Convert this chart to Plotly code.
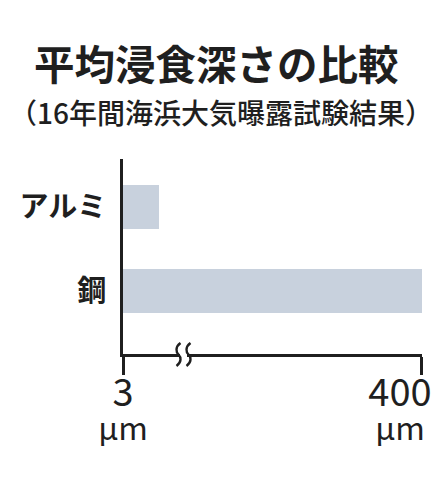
import plotly.graph_objects as go

# data
materials = ["アルミ", "鋼"]
depth_um = [3, 400]
tick_labels = ["3", "400"]
unit = "µm"

title = "平均浸食深さの比較"
subtitle = "（16年間海浜大気曝露試験結果）"

FONT = "Noto Sans CJK JP"
INK = "#1f1f1f"
BAR = "#c8d1dd"

# the page body adds an 8px margin, so the figure is drawn 8px in
OFF = 8
W, H = 446 - OFF, 491 - OFF
# plot box, in reference-picture pixels
X0, X1, Y0, Y1 = 123, 422, 159, 354
L, R, T, B = X0 - OFF, W - (X1 - OFF), Y0 - OFF, H - (Y1 - OFF)
PW, PH = X1 - X0, Y1 - Y0
BREAK = 0.202


def px(x):
    return (x - X0) / PW


def py(y):
    return (Y1 - y) / PH


fig = go.Figure()
# same data on both segments of the broken axis
for xa in ["x", "x2"]:
    fig.add_trace(go.Bar(
        y=materials, x=depth_um, orientation="h",
        xaxis=xa, yaxis="y",
        marker=dict(color=BAR, line=dict(width=0)),
        width=0.524, hoverinfo="skip", showlegend=False,
    ))


def tick_text(v):
    return ('<span style="font-size:38px">%s</span><br>'
            '<span style="font-size:32px">%s</span>' % (v, unit))


axis_common = dict(
    showline=True, linecolor=INK, linewidth=3,
    ticks="outside", ticklen=18, tickwidth=3, tickcolor=INK,
    showgrid=False, zeroline=False, anchor="y",
    tickfont=dict(family=FONT, size=26, color=INK),
    fixedrange=True,
)

fig.update_layout(
    width=W, height=H,
    margin=dict(l=L, r=R, t=T, b=B),
    paper_bgcolor="white", plot_bgcolor="rgba(0,0,0,0)",
    bargap=0,
    xaxis=dict(domain=[0, BREAK + 0.004], range=[0, 5 * (BREAK + 0.004) / BREAK],
               tickvals=[0], ticktext=[tick_text(tick_labels[0])],
               **axis_common),
    xaxis2=dict(domain=[BREAK, 1], range=[5, 400],
                tickvals=[400], ticktext=[tick_text(tick_labels[1])],
                ticklabelshift=-22,
                **axis_common),
    yaxis=dict(range=[1.75, -0.571], showline=True, linecolor=INK, linewidth=3,
               showgrid=False, zeroline=False, ticks="", anchor="x",
               ticklabelstandoff=8,
               tickfont=dict(family=FONT, size=29, color=INK, weight=700),
               fixedrange=True),
    font=dict(family=FONT, color=INK),
    annotations=[
        dict(text=title, x=px(216), y=py(62), xref="paper", yref="paper",
             xanchor="center", yanchor="middle", showarrow=False,
             font=dict(family=FONT, size=40.5, color=INK, weight=700)),
        dict(text=subtitle, x=px(221), y=py(112), xref="paper", yref="paper",
             xanchor="center", yanchor="middle", showarrow=False,
             font=dict(family=FONT, size=28, color=INK, weight=500)),
    ],
)

# axis break mark
fig.add_shape(type="rect", xref="paper", yref="paper",
              x0=px(180), x1=px(187), y0=py(358), y1=py(350),
              fillcolor="white", line=dict(width=0), layer="above")
for cx in [178.5, 188.5]:
    path = "M %f,%f C %f,%f %f,%f %f,%f C %f,%f %f,%f %f,%f" % (
        px(cx + 2), py(343),
        px(cx - 3.5), py(347), px(cx - 2.5), py(352), px(cx), py(354.5),
        px(cx + 2.5), py(357), px(cx + 3.5), py(362), px(cx - 2), py(366),
    )
    fig.add_shape(type="path", path=path, xref="paper", yref="paper",
                  line=dict(color=INK, width=2.4), layer="above")

fig.write_html("out.html")
